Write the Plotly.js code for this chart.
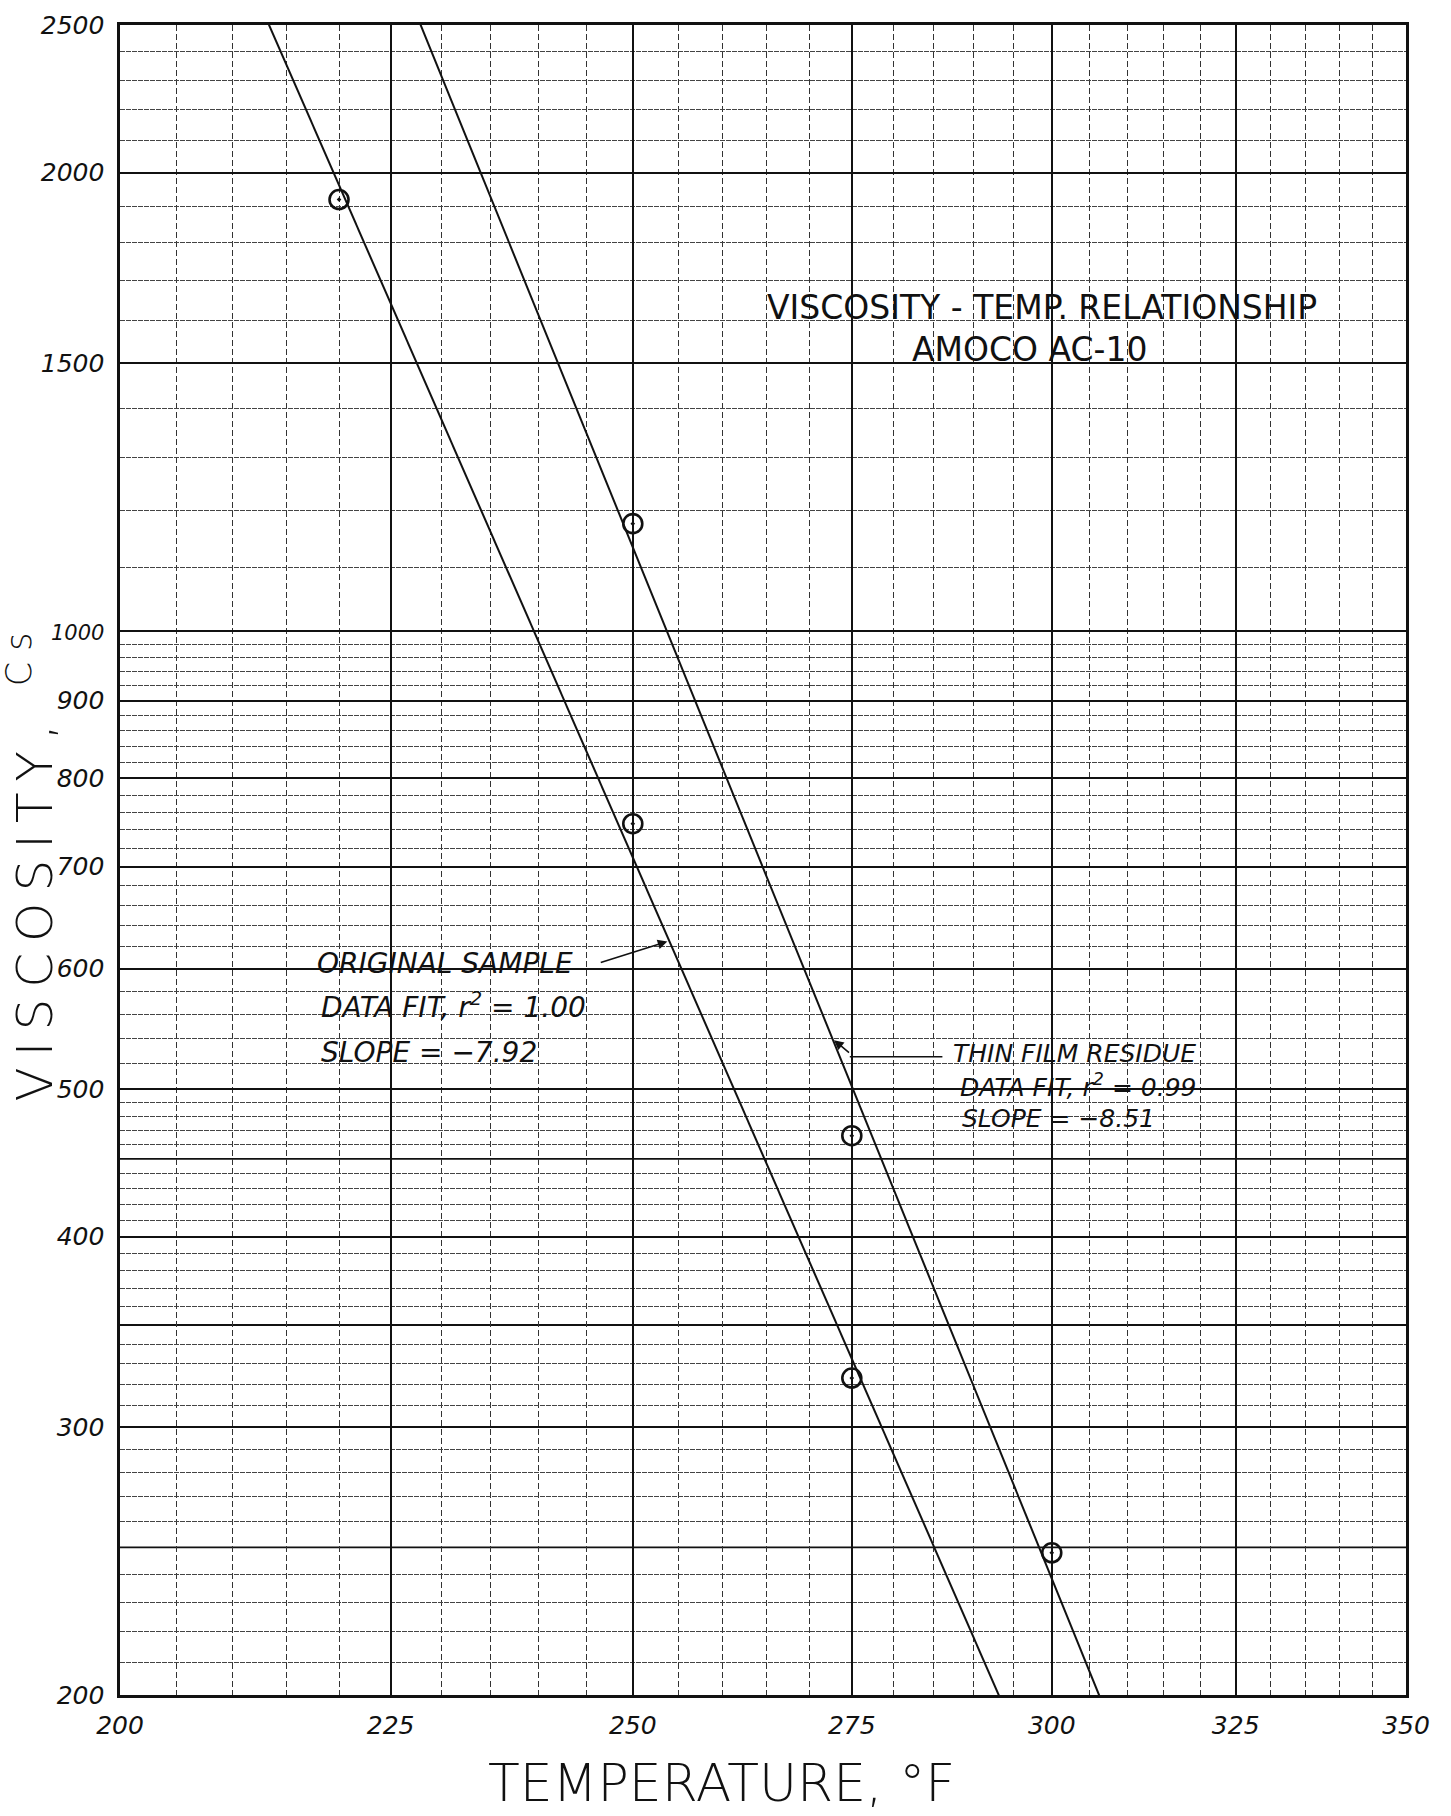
<!DOCTYPE html>
<html>
<head>
<meta charset="utf-8">
<script src="https://cdn.plot.ly/plotly-3.0.1.min.js"></script>
<style>
  html, body { margin: 0; padding: 0; background: #ffffff; }
  #chart { width: 1451px; height: 1816px; }
</style>
</head>
<body>
<div id="chart"></div>
<script>
// ---- data ----
const tempOriginal = [220, 250, 275];          // °F
const viscOriginal = [1920, 747, 323];         // Cs
const tempThinFilm = [250, 275, 300];          // °F
const viscThinFilm = [1176, 466, 248];         // Cs

// ---- axes / ticks ----
const xRange = [200, 350];
const yRange = [200, 2500];
const xTickVals = [200, 225, 250, 275, 300, 325, 350];
const xTickText = ['200', '225', '250', '275', '300', '325', '350'];
const yTickVals = [200, 300, 400, 500, 600, 700, 800, 900, 1000, 1500, 2000, 2500];
const yTickText = ['200', '300', '400', '500', '600', '700', '800', '900',
                   '<span style="font-size:21px">1000</span>', '1500', '2000', '2500'];

// graph-paper rulings
const xMinorVals = [205, 210, 215, 220, 230, 235, 240, 245, 255, 260, 265, 270,
                    280, 285, 290, 295, 305, 310, 315, 320, 330, 335, 340, 345];
const yMinorVals = [210, 220, 230, 240, 260, 270, 280, 290,
                    310, 320, 330, 340, 360, 370, 380, 390,
                    410, 420, 430, 440, 460, 470, 480, 490,
                    520, 540, 560, 580, 620, 640, 660, 680,
                    720, 740, 760, 780, 820, 840, 860, 880,
                    920, 940, 960, 980, 1100, 1200, 1300, 1400,
                    1600, 1700, 1800, 1900, 2100, 2200, 2300, 2400];
const yMediumVals = [250, 350, 450];

// ---- least-squares power-law fit (straight line on log-log paper) ----
function powerFit(xs, ys) {
  const lx = xs.map(Math.log10), ly = ys.map(Math.log10);
  const n = lx.length;
  const mx = lx.reduce((a, b) => a + b, 0) / n;
  const my = ly.reduce((a, b) => a + b, 0) / n;
  let sxy = 0, sxx = 0;
  for (let i = 0; i < n; i++) { sxy += (lx[i] - mx) * (ly[i] - my); sxx += (lx[i] - mx) ** 2; }
  const b = sxy / sxx;
  return x => Math.pow(10, my + b * (Math.log10(x) - mx));
}
const fitOriginal = powerFit(tempOriginal, viscOriginal);
const fitThinFilm = powerFit(tempThinFilm, viscThinFilm);

// where the hand-drawn pointers touch each line
const pointerOriginalT = 254;
const pointerThinFilmT = 272.7;

const handFont = 'DejaVu Sans, Liberation Sans, sans-serif';

const traces = [
  { x: xRange, y: xRange.map(fitOriginal), mode: 'lines', type: 'scatter',
    line: { color: '#111', width: 2 }, name: 'Original sample fit', hoverinfo: 'skip' },
  { x: xRange, y: xRange.map(fitThinFilm), mode: 'lines', type: 'scatter',
    line: { color: '#111', width: 2 }, name: 'Thin film residue fit', hoverinfo: 'skip' },
  { x: tempOriginal, y: viscOriginal, mode: 'markers', type: 'scatter', name: 'Original sample',
    marker: { symbol: 'circle-open-dot', size: 19, color: '#111', line: { width: 2.6, color: '#111' } } },
  { x: tempThinFilm, y: viscThinFilm, mode: 'markers', type: 'scatter', name: 'Thin film residue',
    marker: { symbol: 'circle-open-dot', size: 19, color: '#111', line: { width: 2.6, color: '#111' } } }
];

const shapes = yMediumVals.map(v => ({
  type: 'line', xref: 'paper', yref: 'y', x0: 0, x1: 1, y0: v, y1: v, layer: 'below',
  line: { color: '#111', width: 1.8 }
}));
// tail of the thin-film pointer (horizontal stroke)
shapes.push({ type: 'line', xref: 'paper', yref: 'paper',
  x0: 0.6395, x1: 0.5675, y0: 0.3822, y1: 0.3822, line: { color: '#111', width: 1.6 } });

const annText = (text, x, y, size, anchor, style) => ({
  text: text, xref: 'paper', yref: 'paper', x: x, y: y, showarrow: false,
  xanchor: anchor, yanchor: 'middle',
  font: { family: handFont, size: size, color: '#111', style: style || 'normal' }
});

const annotations = [
  annText('VISCOSITY - TEMP. RELATIONSHIP', 0.717, 0.831, 33, 'center'),
  annText('AMOCO AC-10', 0.7076, 0.8054, 33, 'center'),
  annText('ORIGINAL SAMPLE', 0.1516, 0.4383, 28, 'left', 'italic'),
  annText('DATA FIT, r<sup>2</sup> = 1.00', 0.1547, 0.4126, 28, 'left', 'italic'),
  annText('SLOPE = \u22127.92', 0.1547, 0.3850, 28, 'left', 'italic'),
  annText('THIN FILM RESIDUE', 0.6462, 0.3844, 25, 'left', 'italic'),
  annText('DATA FIT, r<sup>2</sup> = 0.99', 0.6516, 0.3647, 25, 'left', 'italic'),
  annText('SLOPE = \u22128.51', 0.6532, 0.3450, 25, 'left', 'italic'),
  // axis titles (hand lettered, off-centre in the original)
  { text: 'TEMPERATURE, °F', xref: 'paper', yref: 'paper', x: 0.468, y: -0.0527,
    showarrow: false, xanchor: 'center', yanchor: 'middle',
    font: { family: handFont, size: 52, color: '#111', weight: 300 } },
  { text: 'VISCOSITY, <sup>Cs</sup>', xref: 'paper', yref: 'paper',
    x: -0.0692, y: 0.4988, textangle: -90, showarrow: false, xanchor: 'center', yanchor: 'middle',
    font: { family: handFont, size: 50, color: '#111', weight: 300 } },
  // pointers to the fitted lines
  { text: '', xref: 'x', yref: 'y', x: Math.log10(pointerOriginalT), y: Math.log10(fitOriginal(pointerOriginalT)),
    ax: -70, ay: 22, showarrow: true, arrowhead: 2, arrowsize: 1.2, arrowwidth: 1.6, arrowcolor: '#111',
    standoff: 2 },
  { text: '', xref: 'x', yref: 'y', x: Math.log10(pointerThinFilmT), y: Math.log10(fitThinFilm(pointerThinFilmT)),
    ax: 18, ay: 15, showarrow: true, arrowhead: 2, arrowsize: 1.2, arrowwidth: 1.6, arrowcolor: '#111',
    standoff: 2 }
];

const tickFont = { family: handFont, size: 25, color: '#111', style: 'italic' };

const layout = {
  width: 1451, height: 1816,
  margin: { l: 120, r: 45, t: 25, b: 121, pad: 0 },
  paper_bgcolor: '#ffffff', plot_bgcolor: '#ffffff',
  showlegend: false,
  xaxis: {
    type: 'log', range: xRange.map(Math.log10),
    tickmode: 'array', tickvals: xTickVals, ticktext: xTickText,
    tickfont: tickFont, ticks: '', ticklabelstandoff: 6,
    showgrid: true, gridcolor: '#111', gridwidth: 2.2,
    minor: { tickmode: 'array', tickvals: xMinorVals, showgrid: true,
             gridcolor: '#333', gridwidth: 1, griddash: '6px,3px', ticks: '' },
    showline: true, linecolor: '#111', linewidth: 2.6, mirror: true,
    zeroline: false, fixedrange: true
  },
  yaxis: {
    type: 'log', range: yRange.map(Math.log10),
    tickmode: 'array', tickvals: yTickVals, ticktext: yTickText,
    tickfont: tickFont, ticks: '', ticklabelstandoff: 8,
    showgrid: true, gridcolor: '#111', gridwidth: 2,
    minor: { tickmode: 'array', tickvals: yMinorVals, showgrid: true,
             gridcolor: '#444', gridwidth: 1, griddash: '5px,1px', ticks: '' },
    showline: true, linecolor: '#111', linewidth: 2.6, mirror: true,
    zeroline: false, fixedrange: true
  },
  shapes: shapes,
  annotations: annotations
};

Plotly.newPlot('chart', traces, layout, { displayModeBar: false, staticPlot: true }).then(() => {
  // the hand-lettered axis title is widely spaced in the original
  document.querySelectorAll('.annotation-text').forEach(el => {
    if (el.textContent.indexOf('VISCOSITY,') === 0) {
      el.style.letterSpacing = '11px';
    }
  });
});
</script>
</body>
</html>
